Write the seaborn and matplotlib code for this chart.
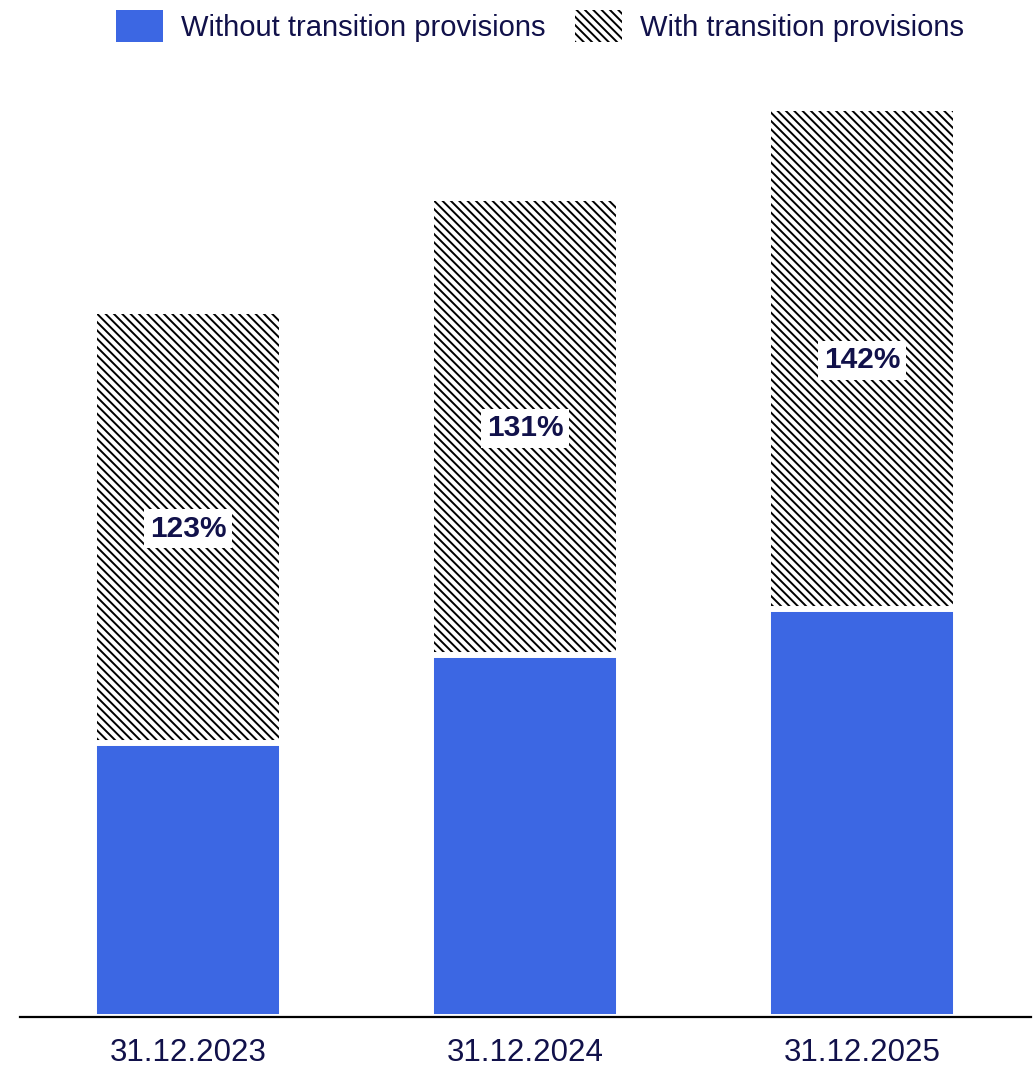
import matplotlib
matplotlib.use("Agg")
import matplotlib.pyplot as plt
import matplotlib.patches as mpatches
import seaborn as sns
import pandas as pd

# values (bar heights, arbitrary units) and the printed labels
dates = ["31.12.2023", "31.12.2024", "31.12.2025"]
without_tp = [47.9, 63.3, 71.4]
with_tp = [123.0, 142.8, 158.5]
labels = ["123%", "131%", "142%"]

blue = "#3C67E3"
navy = "#11114A"
hatch = "\\" * 4

sns.set_style("white")
plt.rcParams["font.family"] = ["Liberation Sans", "DejaVu Sans"]
plt.rcParams["hatch.linewidth"] = 1.4

df = pd.DataFrame({"date": dates, "without": without_tp, "with": with_tp})

fig = plt.figure(figsize=(10.33, 10.67), dpi=100)
ax = fig.add_axes([19.5 / 1033, 50 / 1067, 1011 / 1033, 917 / 1067])

# hatched bars = total height, blue bars overlaid from zero
sns.barplot(data=df, x="date", y="with", color="white", saturation=1, width=0.54,
            edgecolor="black", linewidth=0, hatch=hatch, ax=ax, zorder=1)
sns.barplot(data=df, x="date", y="without", color=blue, saturation=1, width=0.558,
            edgecolor="white", linewidth=4.3, ax=ax, zorder=2)

for i, lab in enumerate(labels):
    ax.text(i, (without_tp[i] + with_tp[i]) / 2, lab, ha="center", va="center",
            fontsize=21.5, fontweight="bold", color=navy, zorder=4,
            bbox=dict(facecolor="white", edgecolor="none", pad=4))

ax.set_xlim(-0.5, 2.5)
ax.set_ylim(0, 160.5)
ax.set_xlabel("")
ax.set_ylabel("")
ax.set_yticks([])
for s in ["left", "right", "top"]:
    ax.spines[s].set_visible(False)
ax.spines["bottom"].set_color("black")
ax.spines["bottom"].set_linewidth(1.6)
ax.spines["bottom"].set_zorder(5)
ax.tick_params(axis="x", length=0, pad=15, labelsize=22.5, labelcolor=navy)

handles = [mpatches.Patch(facecolor=blue, edgecolor=blue, linewidth=0),
           mpatches.Patch(facecolor="white", edgecolor="black", linewidth=0, hatch=hatch)]
fig.legend(handles, ["Without transition provisions", "With transition provisions"],
           loc="upper center", bbox_to_anchor=(540 / 1033, 1.0 + 7 / 1067), ncol=2,
           frameon=False, fontsize=21, labelcolor=navy, handlelength=1.62,
           handleheight=1.3, handletextpad=0.62, columnspacing=1.0, borderaxespad=0.2)

fig.savefig("out.png", dpi=100)
